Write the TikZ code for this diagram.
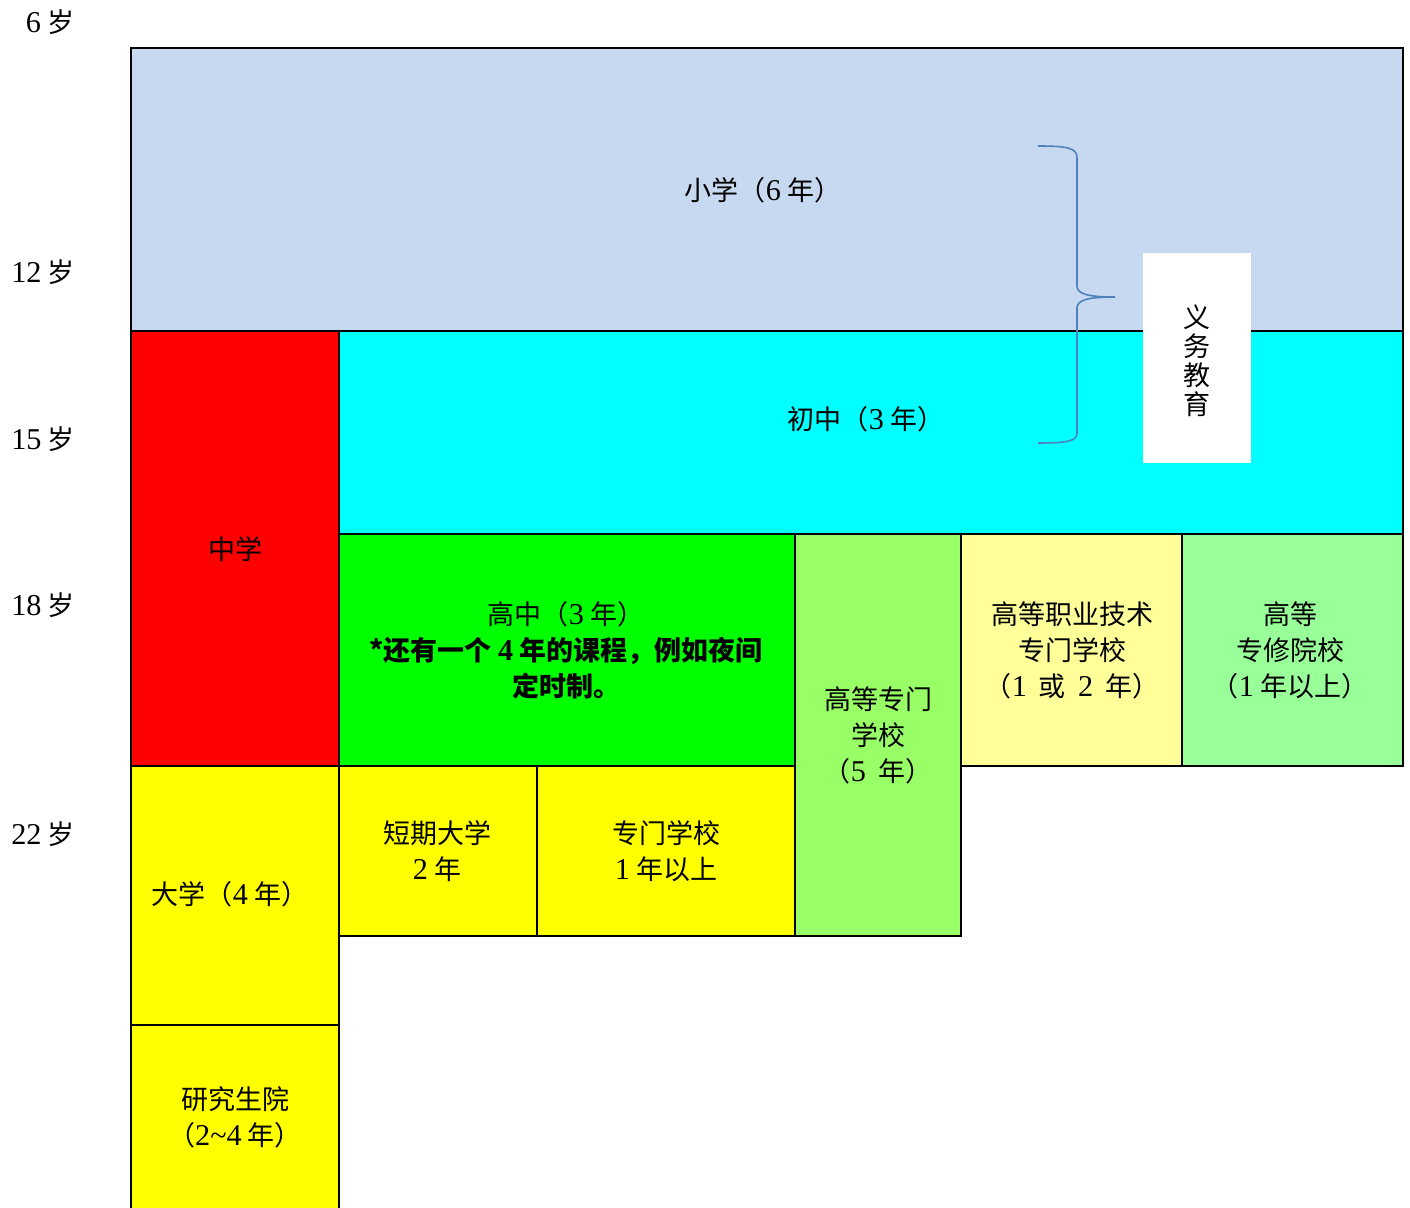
\documentclass[tikz,border=0pt]{standalone}
\usepackage{fontspec}
\setmainfont{Liberation Serif}[Scale=1.12]
\newfontfamily\cjk{Noto Sans CJK SC}
\newcommand\nm[1]{{\rmfamily #1}}
\definecolor{cPri}{RGB}{198,217,240}
\definecolor{cMid}{RGB}{255,0,0}
\definecolor{cJun}{RGB}{0,255,255}
\definecolor{cSen}{RGB}{0,255,0}
\definecolor{cTech}{RGB}{153,255,102}
\definecolor{cVoc}{RGB}{255,255,153}
\definecolor{cSpec}{RGB}{153,255,153}
\definecolor{cYel}{RGB}{255,255,0}
\definecolor{cBrace}{RGB}{79,129,189}
\tikzset{
  blk/.style={draw=black, line width=1.5pt},
  lbl/.style={inner sep=0pt, align=center, font=\cjk\fontsize{27}{36}\selectfont},
  age/.style={inner sep=0pt, anchor=center, font=\cjk\fontsize{27}{32}\selectfont},
}
\begin{document}
\begin{tikzpicture}[x=1pt,y=-1pt]
\useasboundingbox (0,0) rectangle (1410,1207);
% boxes
\path[blk, fill=cPri] (131,48) rectangle (1403,331);
\path[blk, fill=cMid] (131,331) rectangle (339,766);
\path[blk, fill=cJun] (339,331) rectangle (1403,534);
\path[blk, fill=cSen] (339,534) rectangle (795,766);
\path[blk, fill=cTech] (795,534) rectangle (961,936);
\path[blk, fill=cVoc] (961,534) rectangle (1182,766);
\path[blk, fill=cSpec] (1182,534) rectangle (1403,766);
\path[blk, fill=cYel] (131,766) rectangle (339,1025);
\path[blk, fill=cYel] (339,766) rectangle (537,936);
\path[blk, fill=cYel] (537,766) rectangle (795,936);
\path[blk, fill=cYel] (131,1025) rectangle (339,1215);
% ages
\node[age] (a6) at (50,22) {\nm{6} 岁};
\node[age] (a12) at (43,272) {\nm{12} 岁};
\node[age] (a15) at (43,439) {\nm{15} 岁};
\node[age] (a18) at (43,605) {\nm{18} 岁};
\node[age] (a22) at (43,834) {\nm{22} 岁};
% labels
\node[lbl] (pri) at (763,190) {小学（\nm{6} 年）};
\node[lbl] (jun) at (866,419) {初中（\nm{3} 年）};
\node[lbl] (mid) at (235,549) {中学};
\node[lbl] (sen) at (566,650) {高中（\nm{3} 年）\\ \textbf{*还有一个 \nm{\textbf{4}} 年的课程，例如夜间}\\ \textbf{定时制。}};
\node[lbl] (tech) at (878,735) {高等专门\\学校\\（\nm{5}\ \ 年）};
\node[lbl] (voc) at (1072,650) {高等职业技术\\专门学校\\（\nm{1}\ \ 或\ \ \nm{2}\ \ 年）};
\node[lbl] (spec) at (1290,650) {高等\\专修院校\\（\nm{1} 年以上）};
\node[lbl] (jc) at (437,851) {短期大学\\\nm{2} 年};
\node[lbl] (sc) at (666,851) {专门学校\\\nm{1} 年以上};
\node[lbl] (uni) at (230,894) {大学（\nm{4} 年）};
\node[lbl] (grad) at (235,1117) {研究生院\\（\nm{2\textasciitilde4} 年）};
% compulsory education
\node[fill=white, minimum width=108pt, minimum height=210pt, inner sep=0pt, anchor=north west] (comp) at (1143,253) {};
\node[inner sep=0pt, align=center, font=\cjk\fontsize{27}{29}\selectfont] (compt) at (1197,361) {义\\务\\教\\育};
% brace
\coordinate (bt) at (1038,146);
\coordinate (bb) at (1038,443);
\coordinate (btip) at (1115,297);
\draw[cBrace, line width=1.6pt] (bt) .. controls (1068,146) and (1077,148) .. (1077,158) -- (1077,286)
  .. controls (1077,294) and (1088,297) .. (btip)
  .. controls (1088,297) and (1077,300) .. (1077,308) -- (1077,433)
  .. controls (1077,441) and (1068,443) .. (bb);
\end{tikzpicture}
\end{document}
